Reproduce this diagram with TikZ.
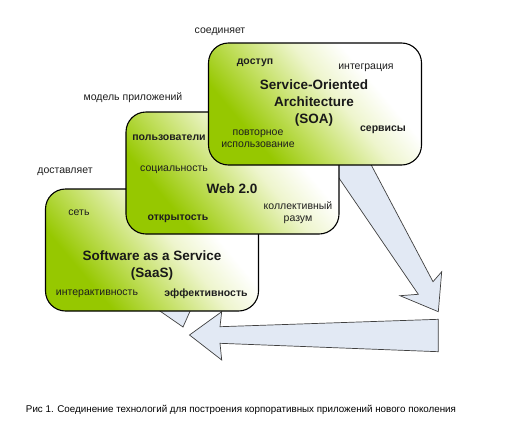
\documentclass[tikz,border=0pt]{standalone}
\usepackage{fontspec}
\setmainfont{Liberation Sans}
\definecolor{gA}{RGB}{150,200,0}
\definecolor{gB}{RGB}{196,224,100}
\definecolor{gC}{RGB}{238,245,205}
\definecolor{arrfill}{RGB}{226,233,244}
\definecolor{txt}{RGB}{30,30,30}
\pgfdeclareverticalshading{boxgrad}{100bp}{color(0bp)=(gA); color(30bp)=(gA); color(43bp)=(gB); color(56bp)=(gC); color(67bp)=(white); color(100bp)=(white)}
\tikzset{
  techbox/.style={draw=black, line width=1.1pt, rounded corners=20pt, minimum width=213pt, minimum height=122pt, shading=boxgrad, shading angle=-50, inner sep=0pt},
  bigarrow/.style={draw=black!75, line width=0.7pt, fill=arrfill, line join=miter},
  lbl/.style={font=\fontsize{10.5}{12}\selectfont, text=txt, inner sep=0pt, align=center},
  blbl/.style={font=\fontsize{10.5}{12}\selectfont\bfseries, text=txt, inner sep=0pt},
  title/.style={font=\fontsize{13.5}{17}\selectfont\bfseries, text=black!90, inner sep=0pt, align=center},
}
\begin{document}
\begin{tikzpicture}[x=1pt,y=-1pt]
\useasboundingbox[fill=white] (0,0) rectangle (526,423);
% arrows (behind the boxes)
\draw[bigarrow] (313,140) -- (358,140) -- (433,281.7) -- (441.7,271.7) -- (438.3,311.7) -- (400,295.7) -- (418.3,294.3) -- cycle;
\draw[bigarrow] (438.3,319.3) -- (220,326.7) -- (221.7,311.7) -- (189.5,335) -- (221.7,360) -- (220,343.3) -- (438.3,351.7) -- cycle;
\draw[bigarrow] (144,300) -- (183,327) -- (195,300) -- cycle;
% boxes
\node[techbox] (saas) at (152,250) {};
\node[techbox] (web) at (232.5,173) {};
\node[techbox] (soa) at (315,104) {};
% top labels
\node[lbl] (l1) at (220,32) {соединяет};
\node[lbl] (l2) at (133,98) {модель приложений};
\node[lbl] (l3) at (65,172) {доставляет};
% SaaS
\node[lbl] (s1) at (79,213) {сеть};
\node[title] (s2) at (152,266) {Software as a Service\\(SaaS)};
\node[lbl] (s3) at (97,294) {интерактивность};
\node[blbl] (s4) at (206,294) {эффективность};
% Web 2.0
\node[blbl] (w1) at (169,138) {пользователи};
\node[lbl] (w2) at (174,170) {социальность};
\node[title] (w3) at (232,189) {Web 2.0};
\node[lbl] (w4) at (298,213) {коллективный\\разум};
\node[blbl] (w5) at (178,219) {открытость};
% SOA
\node[blbl] (o1) at (255,63) {доступ};
\node[lbl] (o2) at (366,68) {интеграция};
\node[title] (o3) at (314,103.5) {Service-Oriented\\Architecture\\(SOA)};
\node[lbl] (o4) at (258,139) {повторное\\использование};
\node[blbl] (o5) at (383,130) {сервисы};
% caption
\node[lbl, font=\fontsize{9.8}{12}\selectfont, text=black] (cap) at (241,410) {Рис 1. Соединение технологий для построения корпоративных приложений нового поколения};
\end{tikzpicture}
\end{document}
